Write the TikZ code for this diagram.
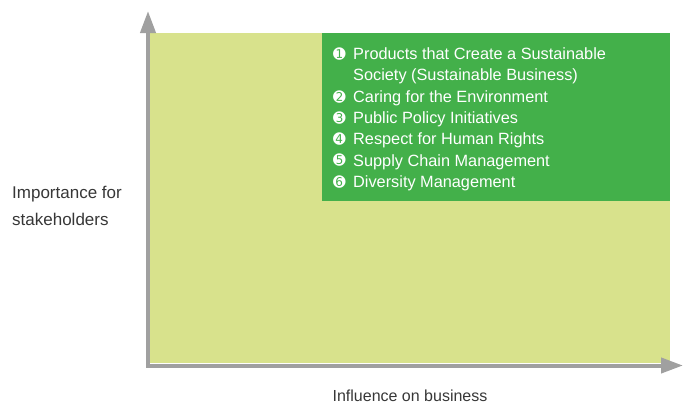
\documentclass[tikz,border=0pt]{standalone}
\usepackage{fontspec}
\setmainfont{Liberation Sans}
\newfontfamily\dingfont{DejaVu Sans}
\usetikzlibrary{arrows.meta}
\definecolor{fieldgreen}{RGB}{216,226,140}
\definecolor{boxgreen}{RGB}{67,176,74}
\definecolor{axisgray}{RGB}{160,160,160}
\definecolor{labelgray}{RGB}{55,55,55}
\tikzset{
	item/.style={anchor=base west, text=white, inner sep=0pt, font=\fontsize{16.3}{18}\selectfont},
	itemnum/.style={anchor=center, text=white, inner sep=0pt, font=\dingfont\fontsize{15}{15}\selectfont},
	axisline/.style={axisgray, line width=4pt, -{Triangle[length=22pt,width=15pt]}},
	axislabel/.style={text=labelgray, inner sep=0pt}
}
\begin{document}
\begin{tikzpicture}[x=1pt,y=-1pt]
	\useasboundingbox (0,0) rectangle (683,405);
	\fill[fieldgreen] (150,33) rectangle (670,363);
	\fill[boxgreen] (322,33) rectangle (670,201);
	% axes
	\coordinate (O) at (148,365.5);
	\coordinate (Ytop) at (148,11);
	\coordinate (Xend) at (683,365.5);
	\draw[axisline] ([yshift=-2pt]O) -- (Ytop);
	\draw[axisline] ([xshift=-2pt]O) -- (Xend);
	% list of issues
	\node[itemnum] (n1) at (339.5,54) {➊};
	\node[item] (t1) at (353,59.5) {Products that Create a Sustainable};
	\node[item] (t1b) at (353,80.8) {Society (Sustainable Business)};
	\node[itemnum] (n2) at (339.5,96.6) {➋};
	\node[item] (t2) at (353,102.1) {Caring for the Environment};
	\node[itemnum] (n3) at (339.5,117.9) {➌};
	\node[item] (t3) at (353,123.4) {Public Policy Initiatives};
	\node[itemnum] (n4) at (339.5,139.2) {➍};
	\node[item] (t4) at (353,144.7) {Respect for Human Rights};
	\node[itemnum] (n5) at (339.5,160.5) {➎};
	\node[item] (t5) at (353,166) {Supply Chain Management};
	\node[itemnum] (n6) at (339.5,181.8) {➏};
	\node[item] (t6) at (353,187.3) {Diversity Management};
	% axis labels
	\node[axislabel, anchor=base west, align=left, font=\fontsize{17}{27}\selectfont] (ylab) at (12,225) {Importance for\\stakeholders};
	\node[axislabel, anchor=base, font=\fontsize{16}{18}\selectfont] (xlab) at (410,401) {Influence on business};
\end{tikzpicture}
\end{document}
